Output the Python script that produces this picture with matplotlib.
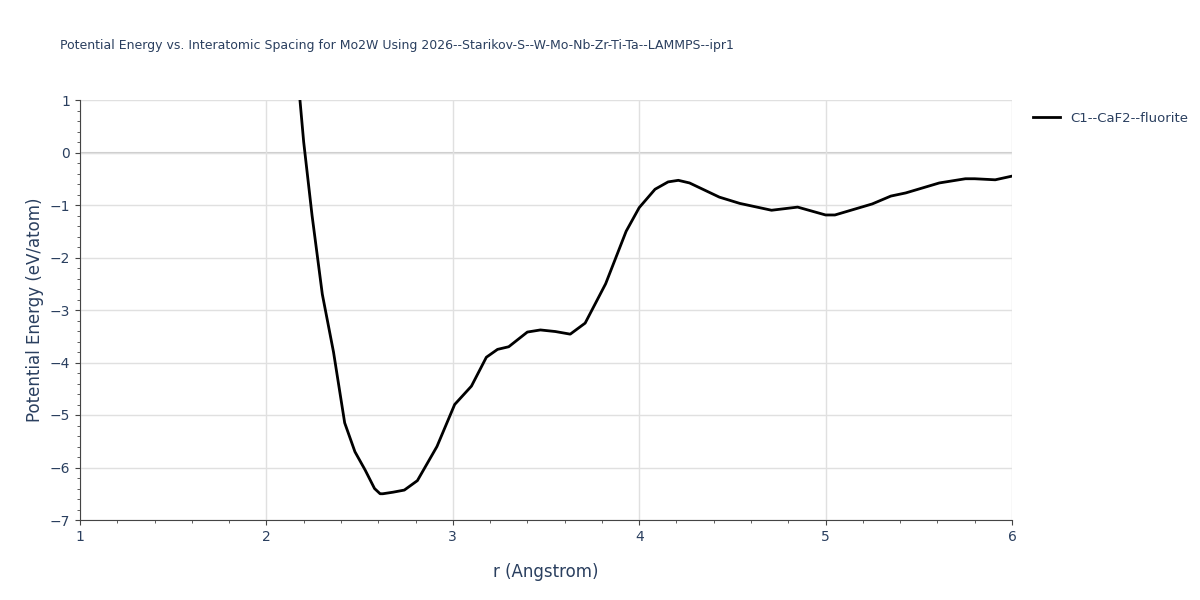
import matplotlib
matplotlib.use("Agg")
import matplotlib.pyplot as plt
from matplotlib.ticker import MultipleLocator

r = [2.18, 2.20, 2.245, 2.30, 2.36, 2.42, 2.475, 2.53, 2.58, 2.61, 2.625, 2.68, 2.74, 2.81, 2.915, 3.01, 3.10,
     3.18, 3.24, 3.30, 3.40, 3.47, 3.55, 3.63, 3.71, 3.82, 3.93, 4.0, 4.085, 4.155, 4.21, 4.27,
     4.43, 4.54, 4.71, 4.85, 4.93, 5.0, 5.05, 5.25, 5.35, 5.43, 5.61, 5.75, 5.80, 5.91, 6.0]
energy = [1.0, 0.2, -1.2, -2.7, -3.8, -5.15, -5.7, -6.05, -6.4, -6.5, -6.5, -6.47, -6.43, -6.25, -5.6, -4.8, -4.45,
          -3.9, -3.75, -3.7, -3.42, -3.38, -3.41, -3.46, -3.25, -2.5, -1.5, -1.05, -0.7, -0.56, -0.53, -0.58,
          -0.85, -0.97, -1.1, -1.04, -1.12, -1.19, -1.19, -0.98, -0.83, -0.77, -0.58, -0.5, -0.5, -0.52, -0.45]

fig = plt.figure(figsize=(12, 6), dpi=100)
ax = fig.add_axes([80/1200, 80/600, 932/1200, 420/600])
ax.plot(r, energy, color="black", lw=2, label="C1--CaF2--fluorite")
ax.set_xlim(1, 6)
ax.set_ylim(-7, 1)
ax.axhline(0, color="#cccccc", lw=1.5, zorder=0)
ax.grid(True, color="#e0e0e0", lw=1)
ax.set_axisbelow(True)
for s in ["top", "right"]:
    ax.spines[s].set_visible(False)
for s in ["left", "bottom"]:
    ax.spines[s].set_color("#444444")
ax.xaxis.set_major_locator(MultipleLocator(1))
ax.yaxis.set_major_locator(MultipleLocator(1))
ax.xaxis.set_minor_locator(MultipleLocator(0.2))
ax.yaxis.set_minor_locator(MultipleLocator(0.2))
ax.tick_params(colors="#2a3f5f", labelsize=10)
ax.tick_params(which="both", color="#444444")
ax.set_yticks(range(-7, 2))
ax.set_yticklabels(["\u22127", "\u22126", "\u22125", "\u22124", "\u22123", "\u22122", "\u22121", "0", "1"])
ax.set_xlabel("r (Angstrom)", color="#2a3f5f", fontsize=12, labelpad=14)
ax.set_ylabel("Potential Energy (eV/atom)", color="#2a3f5f", fontsize=12)
fig.text(60/1200, 1 - 46/600, "Potential Energy vs. Interatomic Spacing for Mo2W Using 2026--Starikov-S--W-Mo-Nb-Zr-Ti-Ta--LAMMPS--ipr1",
         color="#2a3f5f", fontsize=9, va="center")
ax.legend(loc="upper left", bbox_to_anchor=(1.01, 1.0), frameon=False, fontsize=9.5, labelcolor="#2a3f5f")
fig.savefig("out.png")
